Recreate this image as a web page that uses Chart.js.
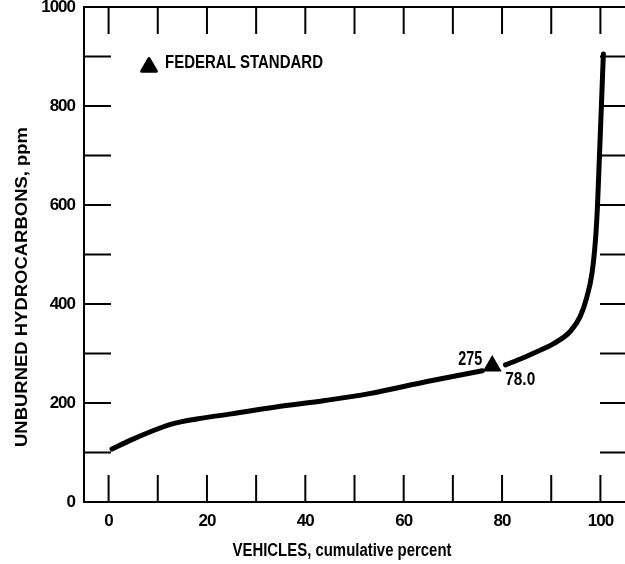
<!DOCTYPE HTML>
<html>
<head>
	<title>Unburned hydrocarbons</title>
	<script src="https://cdn.jsdelivr.net/npm/chart.js@4.4.0/dist/chart.umd.min.js"></script>
	<style>
		body { margin: 0; background: #fff; }
	</style>
</head>
<body>
	<canvas id="myChart" width="625" height="564"></canvas>
	<script>
		// curve (null = gap around the marker)
		const vehiclesPct = [0.7, 4.5, 8.5, 12.6, 18.7, 25, 34, 44, 53, 65, 76, 78, 80.7, 84, 86.5, 90.5, 93.9, 95.9, 97.3, 98.3, 99, 99.4, 99.8, 100.2, 100.6];
		const hcPpm = [107, 125, 142, 157, 169, 178, 192, 205, 219, 244, 265, null, 277, 290, 301, 320, 345, 375, 416, 463, 530, 597, 698, 800, 905];

		const standardPct = [78.0];
		const standardPpm = [275];

		const xTickLabels = [0, 20, 40, 60, 80, 100];
		const yTickLabels = [0, 200, 400, 600, 800, 1000];
		const xMinorTicks = [0, 10, 20, 30, 40, 50, 60, 70, 80, 90, 100];
		const yMinorTicks = [100, 200, 300, 400, 500, 600, 700, 800, 900];

		const FONT = "'Liberation Sans', Arial, sans-serif";

		// draw text squeezed to a given width (condensed look)
		function squeezed(ctx, text, x, y, size, width, align) {
			ctx.save();
			ctx.font = 'bold ' + size + 'px ' + FONT;
			const w = ctx.measureText(text).width;
			const sx = width / w;
			let left = x;
			if (align === 'center') left = x - width / 2;
			if (align === 'right') left = x - width;
			ctx.translate(left, y);
			ctx.scale(sx, 1);
			ctx.textAlign = 'left';
			ctx.textBaseline = 'middle';
			ctx.fillText(text, 0, 0);
			ctx.restore();
		}

		function triangle(ctx, x, y, r) {
			ctx.beginPath();
			ctx.moveTo(x, y - r);
			ctx.lineTo(x + r * 0.866, y + r * 0.5);
			ctx.lineTo(x - r * 0.866, y + r * 0.5);
			ctx.closePath();
			ctx.lineJoin = 'round';
			ctx.lineWidth = 3;
			ctx.fill();
			ctx.stroke();
		}

		const framePlugin = {
			id: 'frame',
			beforeDraw(chart) {
				chart.ctx.letterSpacing = '-1px';
			},
			afterDatasetsDraw(chart) {
				const ctx = chart.ctx;
				const a = chart.chartArea;
				const xs = chart.scales.x;
				const ys = chart.scales.y;
				ctx.save();
				ctx.letterSpacing = '0px';
				ctx.strokeStyle = '#000';
				ctx.fillStyle = '#000';
				ctx.lineWidth = 2;

				// box: left, top, bottom
				ctx.beginPath();
				ctx.moveTo(a.right, a.top);
				ctx.lineTo(a.left, a.top);
				ctx.lineTo(a.left, a.bottom);
				ctx.lineTo(a.right, a.bottom);
				ctx.stroke();

				// inward ticks
				const len = 27;
				ctx.beginPath();
				xMinorTicks.forEach(v => {
					const px = xs.getPixelForValue(v);
					ctx.moveTo(px, a.top);
					ctx.lineTo(px, a.top + len);
					ctx.moveTo(px, a.bottom);
					ctx.lineTo(px, a.bottom - len);
				});
				yMinorTicks.forEach(v => {
					const py = ys.getPixelForValue(v);
					ctx.moveTo(a.left, py);
					ctx.lineTo(a.left + len, py);
					ctx.moveTo(a.right, py);
					ctx.lineTo(a.right - len + 2, py);
				});
				ctx.stroke();

				// legend
				triangle(ctx, a.left + 65, a.top + 60, 8.5);
				squeezed(ctx, 'FEDERAL STANDARD', a.left + 81, a.top + 56, 19, 158, 'left');

				// marker labels
				const mx = xs.getPixelForValue(standardPct[0]);
				const my = ys.getPixelForValue(standardPpm[0]);
				squeezed(ctx, String(standardPpm[0]), mx - 10, my - 6, 20, 24, 'right');
				squeezed(ctx, standardPct[0].toFixed(1), mx + 13, my + 14, 19, 30, 'left');

				// axis titles
				squeezed(ctx, 'VEHICLES, cumulative percent', 342, 551, 18, 219, 'center');
				ctx.translate(22, 287);
				ctx.rotate(-Math.PI / 2);
				squeezed(ctx, 'UNBURNED HYDROCARBONS, ppm', 0, 0, 17, 320, 'center');
				ctx.restore();
			}
		};

		const data = {
			datasets: [{
				label: 'HC',
				data: vehiclesPct.map((x, i) => ({ x: x, y: hcPpm[i] })),
				borderColor: '#000',
				borderWidth: 5,
				borderCapStyle: 'round',
				pointRadius: 0,
				cubicInterpolationMode: 'monotone',
				spanGaps: false
			},
			{
				label: 'FEDERAL STANDARD',
				data: standardPct.map((x, i) => ({ x: x, y: standardPpm[i] })),
				showLine: false,
				pointStyle: 'triangle',
				pointRadius: 9,
				backgroundColor: '#000',
				borderColor: '#000',
				borderWidth: 2
			}]
		};

		const config = {
			type: 'line',
			data: data,
			options: {
				responsive: false,
				animation: false,
				layout: { autoPadding: false, padding: { top: 7, left: 0, right: 0, bottom: 0 } },
				plugins: {
					legend: { display: false },
					tooltip: { enabled: false }
				},
				scales: {
					x: {
						type: 'linear',
						min: -5,
						max: 105,
						border: { display: false },
						grid: { display: false, drawTicks: false },
						afterBuildTicks: s => { s.ticks = xTickLabels.map(v => ({ value: v })); },
						afterFit: s => { s.height = 62; s.paddingLeft = 0; s.paddingRight = 0; },
						ticks: {
							color: '#000',
							padding: 9,
							maxRotation: 0,
							font: { family: FONT, size: 17, weight: 'bold' }
						}
					},
					y: {
						type: 'linear',
						min: 0,
						max: 1000,
						border: { display: false },
						grid: { display: false, drawTicks: false },
						afterBuildTicks: s => { s.ticks = yTickLabels.map(v => ({ value: v })); },
						afterFit: s => { s.width = 84; s.paddingTop = 0; s.paddingBottom = 0; },
						ticks: {
							color: '#000',
							padding: 9,
							callback: v => String(v),
							font: { family: FONT, size: 17, weight: 'bold' }
						}
					}
				}
			},
			plugins: [framePlugin]
		};

		const myChart = new Chart(document.getElementById('myChart'), config);
	</script>
</body>
</html>
